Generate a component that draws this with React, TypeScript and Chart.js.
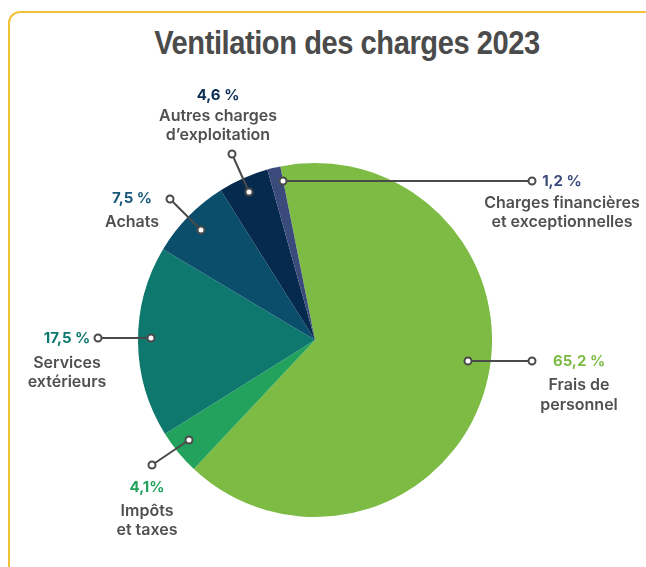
import React, { useEffect, useRef } from "react";
import { Chart, registerables } from "chart.js";

Chart.register(...registerables);

const categories = [
  ["Frais de", "personnel"],
  ["Impôts", "et taxes"],
  ["Services", "extérieurs"],
  ["Achats"],
  ["Autres charges", "d\u2019exploitation"],
  ["Charges financières", "et exceptionnelles"],
];
const values = [65.2, 4.1, 17.5, 7.5, 4.6, 1.2];
const percentLabels = ["65,2 %", "4,1%", "17,5 %", "7,5 %", "4,6 %", "1,2 %"];
const sliceColors = ["#7dbb45", "#22a25c", "#0e786f", "#0a4e6c", "#062a4d", "#3a4a7b"];
const percentColors = ["#7dbb45", "#22a25c", "#0e786f", "#17587a", "#0b2c52", "#3a4a7b"];

// annotation layout (pixel offsets from pie centre)
const labelLayout = [
  { inner: [153, 21], outer: [217, 21], tx: 264, py: 21, ly: [45, 65] },
  { inner: [-126, 100], outer: [-163, 125], tx: -168, py: 147, ly: [171, 190] },
  { inner: [-164, -2], outer: [-217, -2], tx: -248, py: -2, ly: [23, 42] },
  { inner: [-114, -110], outer: [-145, -141], tx: -183, py: -142, ly: [-118] },
  { inner: [-66, -148], outer: [-83, -186], tx: -97, py: -245, ly: [-224, -205] },
  { inner: [-32, -159], outer: [217, -159], tx: 247, py: -159, ly: [-137, -118] },
];

const labelPlugin = {
  id: "calloutLabels",
  afterDatasetsDraw(chart: any) {
    const meta = chart.getDatasetMeta(0);
    const ctx = chart.ctx;
    const arc0 = meta.data[0];
    if (!arc0) return;
    const cx = arc0.x;
    const cy = arc0.y;
    ctx.save();
    meta.data.forEach((_arc: any, i: number) => {
      const L = labelLayout[i];
      const ix = cx + L.inner[0], iy = cy + L.inner[1];
      const ox = cx + L.outer[0], oy = cy + L.outer[1];
      ctx.strokeStyle = "#4a4a4a";
      ctx.lineWidth = 2;
      ctx.beginPath();
      ctx.moveTo(ix, iy);
      ctx.lineTo(ox, oy);
      ctx.stroke();
      for (const [px, py] of [[ix, iy], [ox, oy]]) {
        ctx.beginPath();
        ctx.arc(px, py, 3.5, 0, Math.PI * 2);
        ctx.fillStyle = "#ffffff";
        ctx.fill();
        ctx.stroke();
      }
      ctx.textAlign = "center";
      ctx.textBaseline = "middle";
      ctx.font = "700 15px Inter, 'Noto Sans', sans-serif";
      ctx.fillStyle = percentColors[i];
      ctx.fillText(percentLabels[i], cx + L.tx, cy + L.py);
      ctx.font = "600 16px Inter, 'Noto Sans', sans-serif";
      ctx.fillStyle = "#505050";
      categories[i].forEach((line, k) => {
        ctx.fillText(line, cx + L.tx, cy + L.ly[k]);
      });
    });
    ctx.restore();
  },
};

export default function App() {
  const ref = useRef<HTMLCanvasElement>(null);
  useEffect(() => {
    if (!ref.current) return;
    const chart = new Chart(ref.current, {
      type: "pie",
      data: {
        labels: categories.map((c) => c.join(" ")),
        datasets: [
          {
            data: values,
            backgroundColor: sliceColors,
            borderWidth: 0,
          },
        ],
      },
      options: {
        responsive: false,
        animation: false,
        rotation: -11.3,
        layout: { padding: { left: 138, right: 154, top: 163, bottom: 50 } },
        plugins: {
          legend: { display: false },
          tooltip: { enabled: false },
          title: { display: false },
        },
      },
      plugins: [labelPlugin],
    });
    return () => chart.destroy();
  }, []);

  return (
    <div
      style={{
        position: "fixed",
        left: 0,
        top: 0,
        width: 646,
        height: 567,
        overflow: "hidden",
        background: "#ffffff",
      }}
    >
      <div
        style={{
          position: "absolute",
          left: 8,
          top: 11,
          width: 720,
          height: 700,
          border: "2px solid #f0c23c",
          borderRadius: 12,
          boxSizing: "border-box",
        }}
      />
      <div
        style={{
          position: "absolute",
          left: 0,
          top: 22,
          width: 694,
          textAlign: "center",
          fontFamily: "'Liberation Sans', Arial, sans-serif",
          fontWeight: 700,
          fontSize: 34,
          lineHeight: "40px",
          color: "#4b4b4b",
          letterSpacing: -0.5,
          transform: "scaleX(0.855)",
          transformOrigin: "347px 50%",
        }}
      >
        Ventilation des charges 2023
      </div>
      <canvas
        ref={ref}
        width={646}
        height={567}
        style={{ position: "absolute", left: 0, top: 0, width: 646, height: 567 }}
      />
    </div>
  );
}
